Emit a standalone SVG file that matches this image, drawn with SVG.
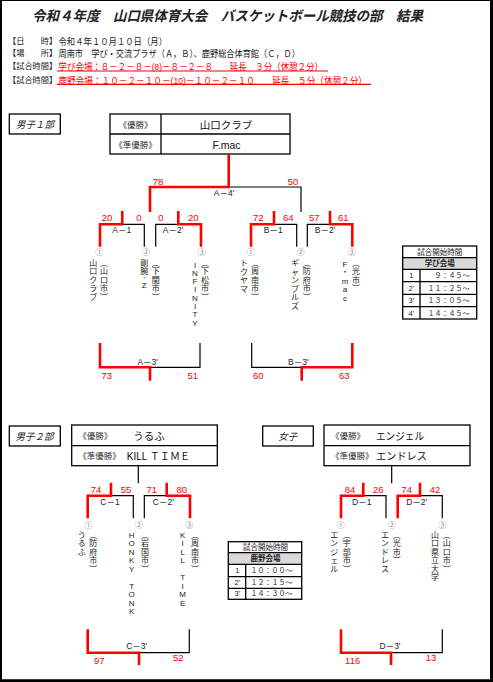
<svg xmlns="http://www.w3.org/2000/svg" width="493" height="682" viewBox="0 0 493 682">
<style>
text{font-family:"Liberation Sans","Noto Sans CJK JP",sans-serif;dominant-baseline:central;fill:#222}
.hd{font-size:9.5px}
.br{font-size:8.2px}
.rt{fill:#f00}
.box{fill:none;stroke:#000;stroke-width:1.3}
.red{fill:none;stroke:#f00;stroke-width:2.6}
.blk{fill:none;stroke:#000;stroke-width:1.2}
.sc{fill:#f00;font-size:9.5px;text-anchor:middle}
.lb{font-size:8.5px;text-anchor:middle}
.cn{fill:#888;font-size:8px;text-anchor:middle}
.vt{font-size:8px;text-anchor:middle}
.sec{font-size:9.5px;font-style:italic;text-anchor:middle}
.wl{font-size:8.5px;fill:#333}
.wn{font-size:10.5px;fill:#111}
.tt{font-size:7.5px;text-anchor:middle}
.tm{font-size:7px;text-anchor:end}
</style>

<g id="frame">
<line x1="0" y1="0.5" x2="493" y2="0.5" stroke="#000" stroke-width="1"/>
<line x1="1" y1="0" x2="1" y2="682" stroke="#000" stroke-width="2"/>
<line x1="491.5" y1="0" x2="491.5" y2="682" stroke="#000" stroke-width="3"/>
<line x1="0" y1="680.7" x2="493" y2="680.7" stroke="#000" stroke-width="3"/>
</g>

<g id="title">
<text x="32" y="16" textLength="391" lengthAdjust="spacingAndGlyphs" font-size="14" font-weight="bold" font-style="italic" fill="#000">令和４年度　山口県体育大会　バスケットボール競技の部　結果</text>
</g>

<g id="info">
<text class="br" x="8" y="41.7">【日　　時】</text>
<text class="hd" x="58.5" y="41.7" textLength="108.5" lengthAdjust="spacingAndGlyphs">令和４年１０月１０日（月）</text>
<text class="br" x="8" y="53.3">【場　　所】</text>
<text class="hd" x="58.5" y="53.3" textLength="241.5" lengthAdjust="spacingAndGlyphs">周南市　学び・交流プラザ（Ａ，Ｂ）、鹿野総合体育館（Ｃ，Ｄ）</text>
<text class="br" x="8" y="66.7">【試合時間】</text>
<text class="hd rt" x="58.5" y="66.7" textLength="264.5" lengthAdjust="spacingAndGlyphs">学び会場：８－２－８－(8)－８－２－８　　延長　３分（休憩２分）</text>
<line x1="57" y1="71" x2="328" y2="71" stroke="#f00" stroke-width="1.2"/>
<text class="br" x="8" y="80">【試合時間】</text>
<text class="hd rt" x="58.5" y="80" textLength="308.5" lengthAdjust="spacingAndGlyphs">鹿野会場：１０－２－１０－(10)－１０－２－１０　　延長　５分（休憩２分）</text>
<line x1="57" y1="84.3" x2="371" y2="84.3" stroke="#f00" stroke-width="1.2"/>
</g>

<g id="sec-m1">
<rect class="box" x="9.3" y="114" width="51" height="20"/>
<text class="sec" x="35" y="124.5">男子１部</text>
</g>
<g id="result-m1">
<rect class="box" x="110" y="114" width="180" height="40"/>
<line class="box" x1="110" y1="134" x2="290" y2="134"/>
<line class="box" x1="161" y1="114" x2="161" y2="154"/>
<text class="wl" x="135.5" y="124.5" text-anchor="middle">《優勝》</text>
<text class="wl" x="135.5" y="144.5" text-anchor="middle">《準優勝》</text>
<text class="wn" x="226" y="124.5" text-anchor="middle">山口クラブ</text>
<text class="wn" x="226.5" y="144.5" text-anchor="middle">F.mac</text>
</g>

<g id="sec-m2">
<rect class="box" x="9.3" y="426" width="51" height="20"/>
<text class="sec" x="34.5" y="436">男子２部</text>
</g>
<g id="result-m2">
<rect class="box" x="71.7" y="425" width="145.6" height="40.7"/>
<line class="box" x1="71.7" y1="445.7" x2="217.3" y2="445.7"/>
<text class="wl" x="78.3" y="435.7">《優勝》</text>
<text class="wl" x="78.3" y="455.7">《準優勝》</text>
<text class="wn" x="133.3" y="435.7" font-size="10">うるふ</text>
<text class="wn" x="126.7" y="455.7" textLength="63.3" lengthAdjust="spacingAndGlyphs">KILL ＴＩＭＥ</text>
</g>

<g id="sec-w">
<rect class="box" x="262.7" y="426" width="50.6" height="20"/>
<text class="sec" x="287.7" y="436">女子</text>
</g>
<g id="result-w">
<rect class="box" x="324" y="425" width="146" height="40.7"/>
<line class="box" x1="324" y1="445.7" x2="470" y2="445.7"/>
<text class="wl" x="331" y="435.7">《優勝》</text>
<text class="wl" x="331" y="455.7">《準優勝》</text>
<text class="wn" x="376" y="435.7" textLength="48" lengthAdjust="spacingAndGlyphs">エンジェル</text>
<text class="wn" x="376" y="455.7" textLength="51" lengthAdjust="spacingAndGlyphs">エンドレス</text>
</g>

<g id="time-a">
<rect x="402.7" y="257.7" width="74" height="11.6" fill="#d9d9d9"/>
<rect class="box" x="402.7" y="246" width="74" height="73"/>
<path class="box" d="M402.7,257.7H476.7M402.7,269.3H476.7M402.7,281.7H476.7M402.7,294.3H476.7M402.7,306.7H476.7M420,269.3V319"/>
<text class="tt" x="439.7" y="252">試合開始時間</text>
<text class="tt" x="439.7" y="263.5" font-weight="bold">学び会場</text>
<text class="tt" x="411.3" y="275.5">1</text>
<text class="tt" x="411.3" y="288">2'</text>
<text class="tt" x="411.3" y="300.5">3'</text>
<text class="tt" x="411.3" y="313">4'</text>
<text class="tm" x="469.5" y="275.5">９：４５～</text>
<text class="tm" x="469.5" y="288">１１：２５～</text>
<text class="tm" x="469.5" y="300.5">１３：０５～</text>
<text class="tm" x="469.5" y="313">１４：４５～</text>
</g>

<g id="time-b">
<rect x="228.3" y="552.7" width="73.4" height="11.6" fill="#d9d9d9"/>
<rect class="box" x="228.3" y="541.7" width="73.4" height="57.6"/>
<path class="box" d="M228.3,552.7H301.7M228.3,564.3H301.7M228.3,576.7H301.7M228.3,588.3H301.7M245.7,564.3V599.3"/>
<text class="tt" x="265.5" y="547.2">試合開始時間</text>
<text class="tt" x="265.5" y="558.5" font-weight="bold">鹿野会場</text>
<text class="tt" x="237.3" y="570.5">1</text>
<text class="tt" x="237.3" y="582.5">2'</text>
<text class="tt" x="237.3" y="593.8">3'</text>
<text class="tm" x="292.5" y="570.5">１０：００～</text>
<text class="tm" x="292.5" y="582.5">１２：１５～</text>
<text class="tm" x="292.5" y="593.8">１４：３０～</text>
</g>

<g id="team-a1">
<text class="cn" x="99.3" y="252.3">①</text>
<text class="vt" x="93.3 93.3 93.3 93.3 93.3" y="263 271.5 280 288.5 297">山口クラブ</text>
<text class="vt" x="104 104 104 104 104" y="263 271.5 280 288.5 297">︵山口市︶</text>
</g>
<g id="team-a2">
<text class="cn" x="146" y="252.3">②</text>
<text class="vt" x="144.3 144.3 144.3 144.3" y="263 271.5 279 285.5">剛腕'Z</text>
<text class="vt" x="155.7 155.7 155.7 155.7 155.7" y="263 271.5 280 288.5 297">︵下関市︶</text>
</g>
<g id="team-a3">
<text class="cn" x="201.7" y="252.3">③</text>
<text class="vt" x="195 195 195 195 195 195 195 195" y="265 273.3 281.6 289.9 298.2 306.5 314.8 323.1">INFINITY</text>
<text class="vt" x="205 205 205 205 205" y="263 271.5 280 288.5 297">︵下松市︶</text>
</g>
<g id="team-b1">
<text class="cn" x="250.7" y="252.3">①</text>
<text class="vt" x="244 244 244 244" y="263.5 272 280.5 289">トクヤマ</text>
<text class="vt" x="255 255 255 255 255" y="263 271.5 280 288.5 297">︵周南市︶</text>
</g>
<g id="team-b2">
<text class="cn" x="300.7" y="252.3">②</text>
<text class="vt" x="295 295 295 295 295 295" y="263.5 272 280.5 289 297.5 306">ギャンブルズ</text>
<text class="vt" x="306.7 306.7 306.7 306.7 306.7" y="263 271.5 280 288.5 297">︵防府市︶</text>
</g>
<g id="team-b3">
<text class="cn" x="351.7" y="252.3">③</text>
<text class="vt" x="345 345 345 345 345" y="264 272 281 289.5 298">F・mac</text>
<text class="vt" x="356 356 356 356" y="263 271.5 280 288.5">︵光市︶</text>
</g>

<g id="team-c1">
<text class="cn" x="88.3" y="525">①</text>
<text class="vt" x="81.7 81.7 81.7" y="535 543.5 552.5">うるふ</text>
<text class="vt" x="93.3 93.3 93.3 93.3 93.3" y="535 543.5 552 560.5 569">︵防府市︶</text>
</g>
<g id="team-c2">
<text class="cn" x="139" y="525">②</text>
<text class="vt" x="131.7 131.7 131.7 131.7 131.7 131.7 131.7 131.7 131.7" y="535 543.5 552 560.5 569 586 594.5 603 611.5">HONKYTONK</text>
<text class="vt" x="145 145 145 145 145" y="535 543.5 552 560.5 569">︵岩国市︶</text>
</g>
<g id="team-c3">
<text class="cn" x="189.3" y="525">③</text>
<text class="vt" x="182.7 182.7 182.7 182.7 182.7 182.7 182.7 182.7" y="535 543.5 552 560.5 577.5 586 594.5 603">KILLTIME</text>
<text class="vt" x="195 195 195 195 195" y="535 543.5 552 560.5 569">︵周南市︶</text>
</g>
<g id="team-d1">
<text class="cn" x="340.7" y="525">①</text>
<text class="vt" x="334.3 334.3 334.3 334.3 334.3" y="535 543.5 552 560.5 569">エンジェル</text>
<text class="vt" x="346.7 346.7 346.7 346.7 346.7" y="535 543.5 552 560.5 569">︵宇部市︶</text>
</g>
<g id="team-d2">
<text class="cn" x="391.7" y="525">②</text>
<text class="vt" x="385 385 385 385 385" y="535 543.5 552 560.5 569">エンドレス</text>
<text class="vt" x="396.7 396.7 396.7 396.7" y="535 543.5 552 560.5">︵光市︶</text>
</g>
<g id="team-d3">
<text class="cn" x="442.3" y="525">③</text>
<text class="vt" x="435 435 435 435 435 435" y="535 543.5 552 560.5 569 577.5">山口県立大学</text>
<text class="vt" x="446.7 446.7 446.7 446.7 446.7" y="535 543.5 552 560.5 569">︵山口市︶</text>
</g>

<g id="connectors">
<path class="blk" d="M228.7,187H301V212M122.3,224.3H144.3V246.7M155.7,246.7V224.3H178.3M274,224.3H296.7V246.7M307.3,246.7V224.3H330M200,343V367.3H150M251.7,343V367.3H301.7"/>
<path class="blk" d="M138.3,465.7V483.3M111,495.7H133.3V518.3M144.3,518.3V495.7H166.7M391.7,465.7V483.3M363.3,495.7H386V518.3M420,495.7H442.3V518.3M189.3,629.3V652.7H139M442.3,629.3V652.7H391"/>
<path class="red" d="M228.7,154V187H150V212M122.3,211V224.3H100V246.7M178.3,211V224.3H201V246.7M274,211V224.3H251V246.7M330,211V224.3H352.3V246.7M100,343V367.3H150V380.7M352.3,343V367.3H301.7V380.7"/>
<path class="red" d="M111,482.7V495.7H87.7V518.3M166.7,482.7V495.7H190V518.3M363.3,482.7V495.7H341V518.3M420,482.7V495.7H397.7V518.3M87.7,629.3V652.7H139V665M341,629.3V652.7H391V665"/>
<g id="scores">
<text class="sc" x="158" y="181.5">78</text>
<text class="sc" x="293" y="181.5">50</text>
<text class="sc" x="107" y="217.5">20</text>
<text class="sc" x="139" y="217.5">0</text>
<text class="sc" x="161" y="217.5">0</text>
<text class="sc" x="193.3" y="217.5">20</text>
<text class="sc" x="258.3" y="217.5">72</text>
<text class="sc" x="288.3" y="217.5">64</text>
<text class="sc" x="314.3" y="217.5">57</text>
<text class="sc" x="343.3" y="217.5">61</text>
<text class="sc" x="106.7" y="375">73</text>
<text class="sc" x="192.7" y="375">51</text>
<text class="sc" x="258.3" y="375">60</text>
<text class="sc" x="344.3" y="375">63</text>
<text class="sc" x="96" y="489">74</text>
<text class="sc" x="126" y="489">55</text>
<text class="sc" x="151.7" y="489">71</text>
<text class="sc" x="181.7" y="489">80</text>
<text class="sc" x="350" y="489">84</text>
<text class="sc" x="378.3" y="489">26</text>
<text class="sc" x="406.7" y="489">74</text>
<text class="sc" x="435" y="489">42</text>
<text class="sc" x="99.3" y="660">97</text>
<text class="sc" x="178.3" y="657.3">52</text>
<text class="sc" x="352.7" y="660">116</text>
<text class="sc" x="431" y="657.3">13</text>
</g>
<g id="match-labels">
<text class="lb" x="224" y="192.7">A－4'</text>
<text class="lb" x="121.7" y="230">A－1</text>
<text class="lb" x="173" y="230">A－2'</text>
<text class="lb" x="273.3" y="230">B－1</text>
<text class="lb" x="325" y="230">B－2'</text>
<text class="lb" x="147.7" y="361.7">A－3'</text>
<text class="lb" x="298.3" y="361.7">B－3'</text>
<text class="lb" x="110" y="502.3">C－1</text>
<text class="lb" x="163.3" y="502.3">C－2'</text>
<text class="lb" x="361.7" y="502.3">D－1</text>
<text class="lb" x="416.7" y="502.3">D－2'</text>
<text class="lb" x="136.7" y="646">C－3'</text>
<text class="lb" x="390" y="646">D－3'</text>
</g>
</g>
</svg>
